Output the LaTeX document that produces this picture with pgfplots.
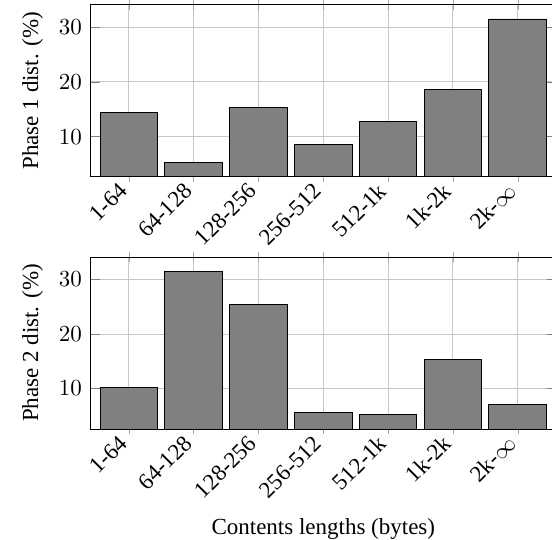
\documentclass[border=0pt]{standalone}
\usepackage{fontspec}
\setmainfont{Liberation Serif}
\usepackage{pgfplots}
\pgfplotsset{compat=1.18}
\pgfplotstableread{
x top bottom
0 14.45 10.2
1 5.3 31.5
2 15.3 25.4
3 8.6 5.6
4 12.7 5.2
5 18.7 15.3
6 31.5 7.1
}\datatable
\pgfplotsset{
  mybars/.style={
    scale only axis,
    width=202.88pt,
    height=74.8pt,
    anchor=south west,
    ybar,
    bar width=0.89,
    xmin=-0.6, xmax=6.6,
    xtick={0,1,2,3,4,5,6},
    xticklabels={1-64,64-128,128-256,256-512,512-1k,1k-2k,2k-$\infty$},
    xticklabel style={rotate=45, anchor=east},
    ytick={10,20,30},
    grid=major,
    major grid style={black!22},
    x tick style={black!35},
    xtick align=center,
  }
}
\begin{document}
\begin{tikzpicture}
\useasboundingbox (0,0) rectangle (240.0pt,-234.35pt);
\begin{axis}[mybars, at={(39.13pt,-76.83pt)}, ymin=2.68, ymax=34.12,
  ylabel={Phase 1 dist. (\%)}]
\addplot[fill=gray, draw=black] table[x=x, y=top] {\datatable};
\end{axis}
\begin{axis}[mybars, at={(39.13pt,-186.53pt)}, ymin=2.57, ymax=34.13,
  ylabel={Phase 2 dist. (\%)}, xlabel={Contents lengths (bytes)}]
\addplot[fill=gray, draw=black] table[x=x, y=bottom] {\datatable};
\end{axis}
\end{tikzpicture}
\end{document}
